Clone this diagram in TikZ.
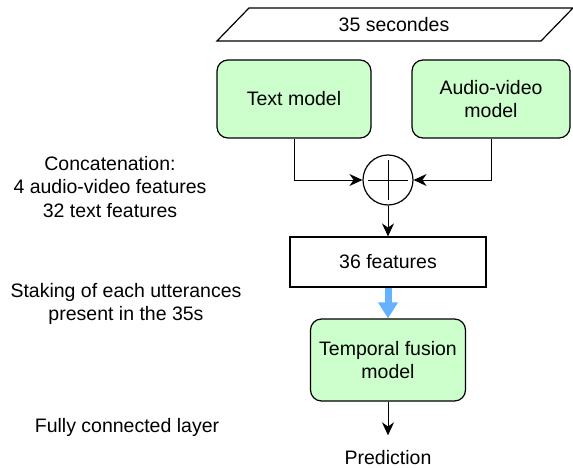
\documentclass[tikz,border=0pt]{standalone}
\usepackage{fontspec}
\setmainfont{Liberation Sans}
\usetikzlibrary{arrows.meta}

\definecolor{modelGreen}{RGB}{204,255,204}
\definecolor{flowBlue}{RGB}{102,178,255}

\begin{document}
\begin{tikzpicture}[%%
  x=1pt,y=-1pt,%%
  font=\fontsize{19.5}{23.5}\selectfont,%%
  modelStyle/.style={draw,line width=1.2pt,fill=modelGreen,rounded corners=11pt,align=center},%%
  boxStyle/.style={draw,line width=1.2pt,align=center},%%
  arrowStyle/.style={-{Stealth[length=13pt,width=12pt]},line width=1pt},%%
  blueStyle/.style={-{Triangle[length=16pt,width=19pt]},line width=7pt,flowBlue},%%
  labelStyle/.style={align=center}%%
]
%%
%%
\pgfmathsetmacro{\slant}{32}
\pgfmathsetmacro{\wtop}{8}
\pgfmathsetmacro{\wbot}{41}
\pgfmathsetmacro{\wleft}{217}
\pgfmathsetmacro{\wright}{541}
%%
\useasboundingbox (0,0) rectangle (573,468);
%%
%% Draw the input window.
\draw[line width=1.2pt] (\wleft,\wbot) -- (\wleft+\slant,\wtop) -- (\wright+\slant,\wtop) -- (\wright,\wbot) -- cycle;
\node (window) at (394,25) {35 secondes};
%% Draw the two models.
\node[modelStyle,minimum width=154pt,minimum height=78pt] (textModel) at (294,99) {Text model};
\node[modelStyle,minimum width=158pt,minimum height=78pt] (avModel) at (491,99) {Audio-video\\model};
%% Draw the concatenation.
\node[draw,circle,line width=1.2pt,minimum size=50pt] (sum) at (388,180) {};
\draw[line width=1pt,shorten <=6pt,shorten >=6pt] (sum.north) -- (sum.south);
\draw[line width=1pt,shorten <=6pt,shorten >=6pt] (sum.west) -- (sum.east);
\draw[arrowStyle] (textModel.south) |- (sum.west);
\draw[arrowStyle] (avModel.south) |- (sum.east);
%% Draw the features and the fusion model.
\node[boxStyle,minimum width=196pt,minimum height=50pt] (features) at (388,262) {36 features};
\node[modelStyle,minimum width=155pt,minimum height=82pt] (fusion) at (388,360) {Temporal fusion\\model};
\node (prediction) at (388,458) {Prediction};
\draw[arrowStyle] (sum.south) -- (features.north);
\draw[blueStyle] (features.south) -- (fusion.north);
\draw[arrowStyle,shorten >=12pt] (fusion.south) -- (prediction.north);
%% Label the steps on the left.
\node[labelStyle] (concatLabel) at (110,187) {Concatenation:\\4 audio-video features\\32 text features};
\node[labelStyle] (stackLabel) at (126,304) {Staking of each utterances\\present in the 35s};
\node[labelStyle] (denseLabel) at (127,427) {Fully connected layer};
\end{tikzpicture}
\end{document}
